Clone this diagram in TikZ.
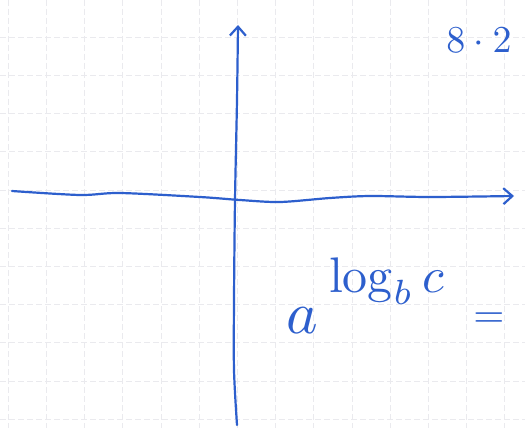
\documentclass[tikz,border=0pt]{standalone}
\usepackage{amsmath,amssymb}
\usepackage{tikz}
\usetikzlibrary{arrows.meta,positioning,calc}
\definecolor{penblue}{RGB}{45,95,205}
\definecolor{gridgray}{RGB}{234,234,238}

\begin{document}
\begin{tikzpicture}[x=1pt,y=-1pt,
    pen/.style={draw=penblue,line width=2.2pt,line cap=round,line join=round},
    gridline/.style={draw=gridgray,line width=0.5pt,dash pattern=on 6pt off 3pt},
    ink/.style={text=penblue,inner sep=0pt}]
                        \useasboundingbox[fill=white] (0,0) rectangle (525,428);
                        % squared paper
                        \foreach \i in {0,...,13} {
                            \draw[gridline] (8+38.2*\i,0) -- (8+38.2*\i,428);
                        }
                        \foreach \j in {0,...,10} {
                            \draw[gridline] (0,37+38.2*\j) -- (525,37+38.2*\j);
                        }
                        % axes
                        \draw[pen,-{Straight Barb[length=9pt,width=16pt,line width=2.2pt]}]
                            plot[smooth] coordinates {(12,191) (80,195) (120,193) (200,197) (240,200)
                            (280,202) (330,198) (370,196) (430,197) (514,196)};
                        \draw[pen,-{Straight Barb[length=9pt,width=16pt,line width=2.2pt]}]
                            plot[smooth] coordinates {(237,425) (234,370) (234,300) (235,200)
                            (237,100) (238,25)};
                        % text
                        \node[ink,anchor=base,scale=3.8] (page) at (479,53) {$8\cdot 2$};
                        \node[ink,anchor=base west,scale=6] (base) at (285,333) {$a$};
                        \node[ink,anchor=base west,scale=5] (expo) at (328,292) {$\log_b c$};
                        \node[ink,anchor=center,scale=4] (eq) at (489,320) {$=$};
                    \end{tikzpicture}
\end{document}
